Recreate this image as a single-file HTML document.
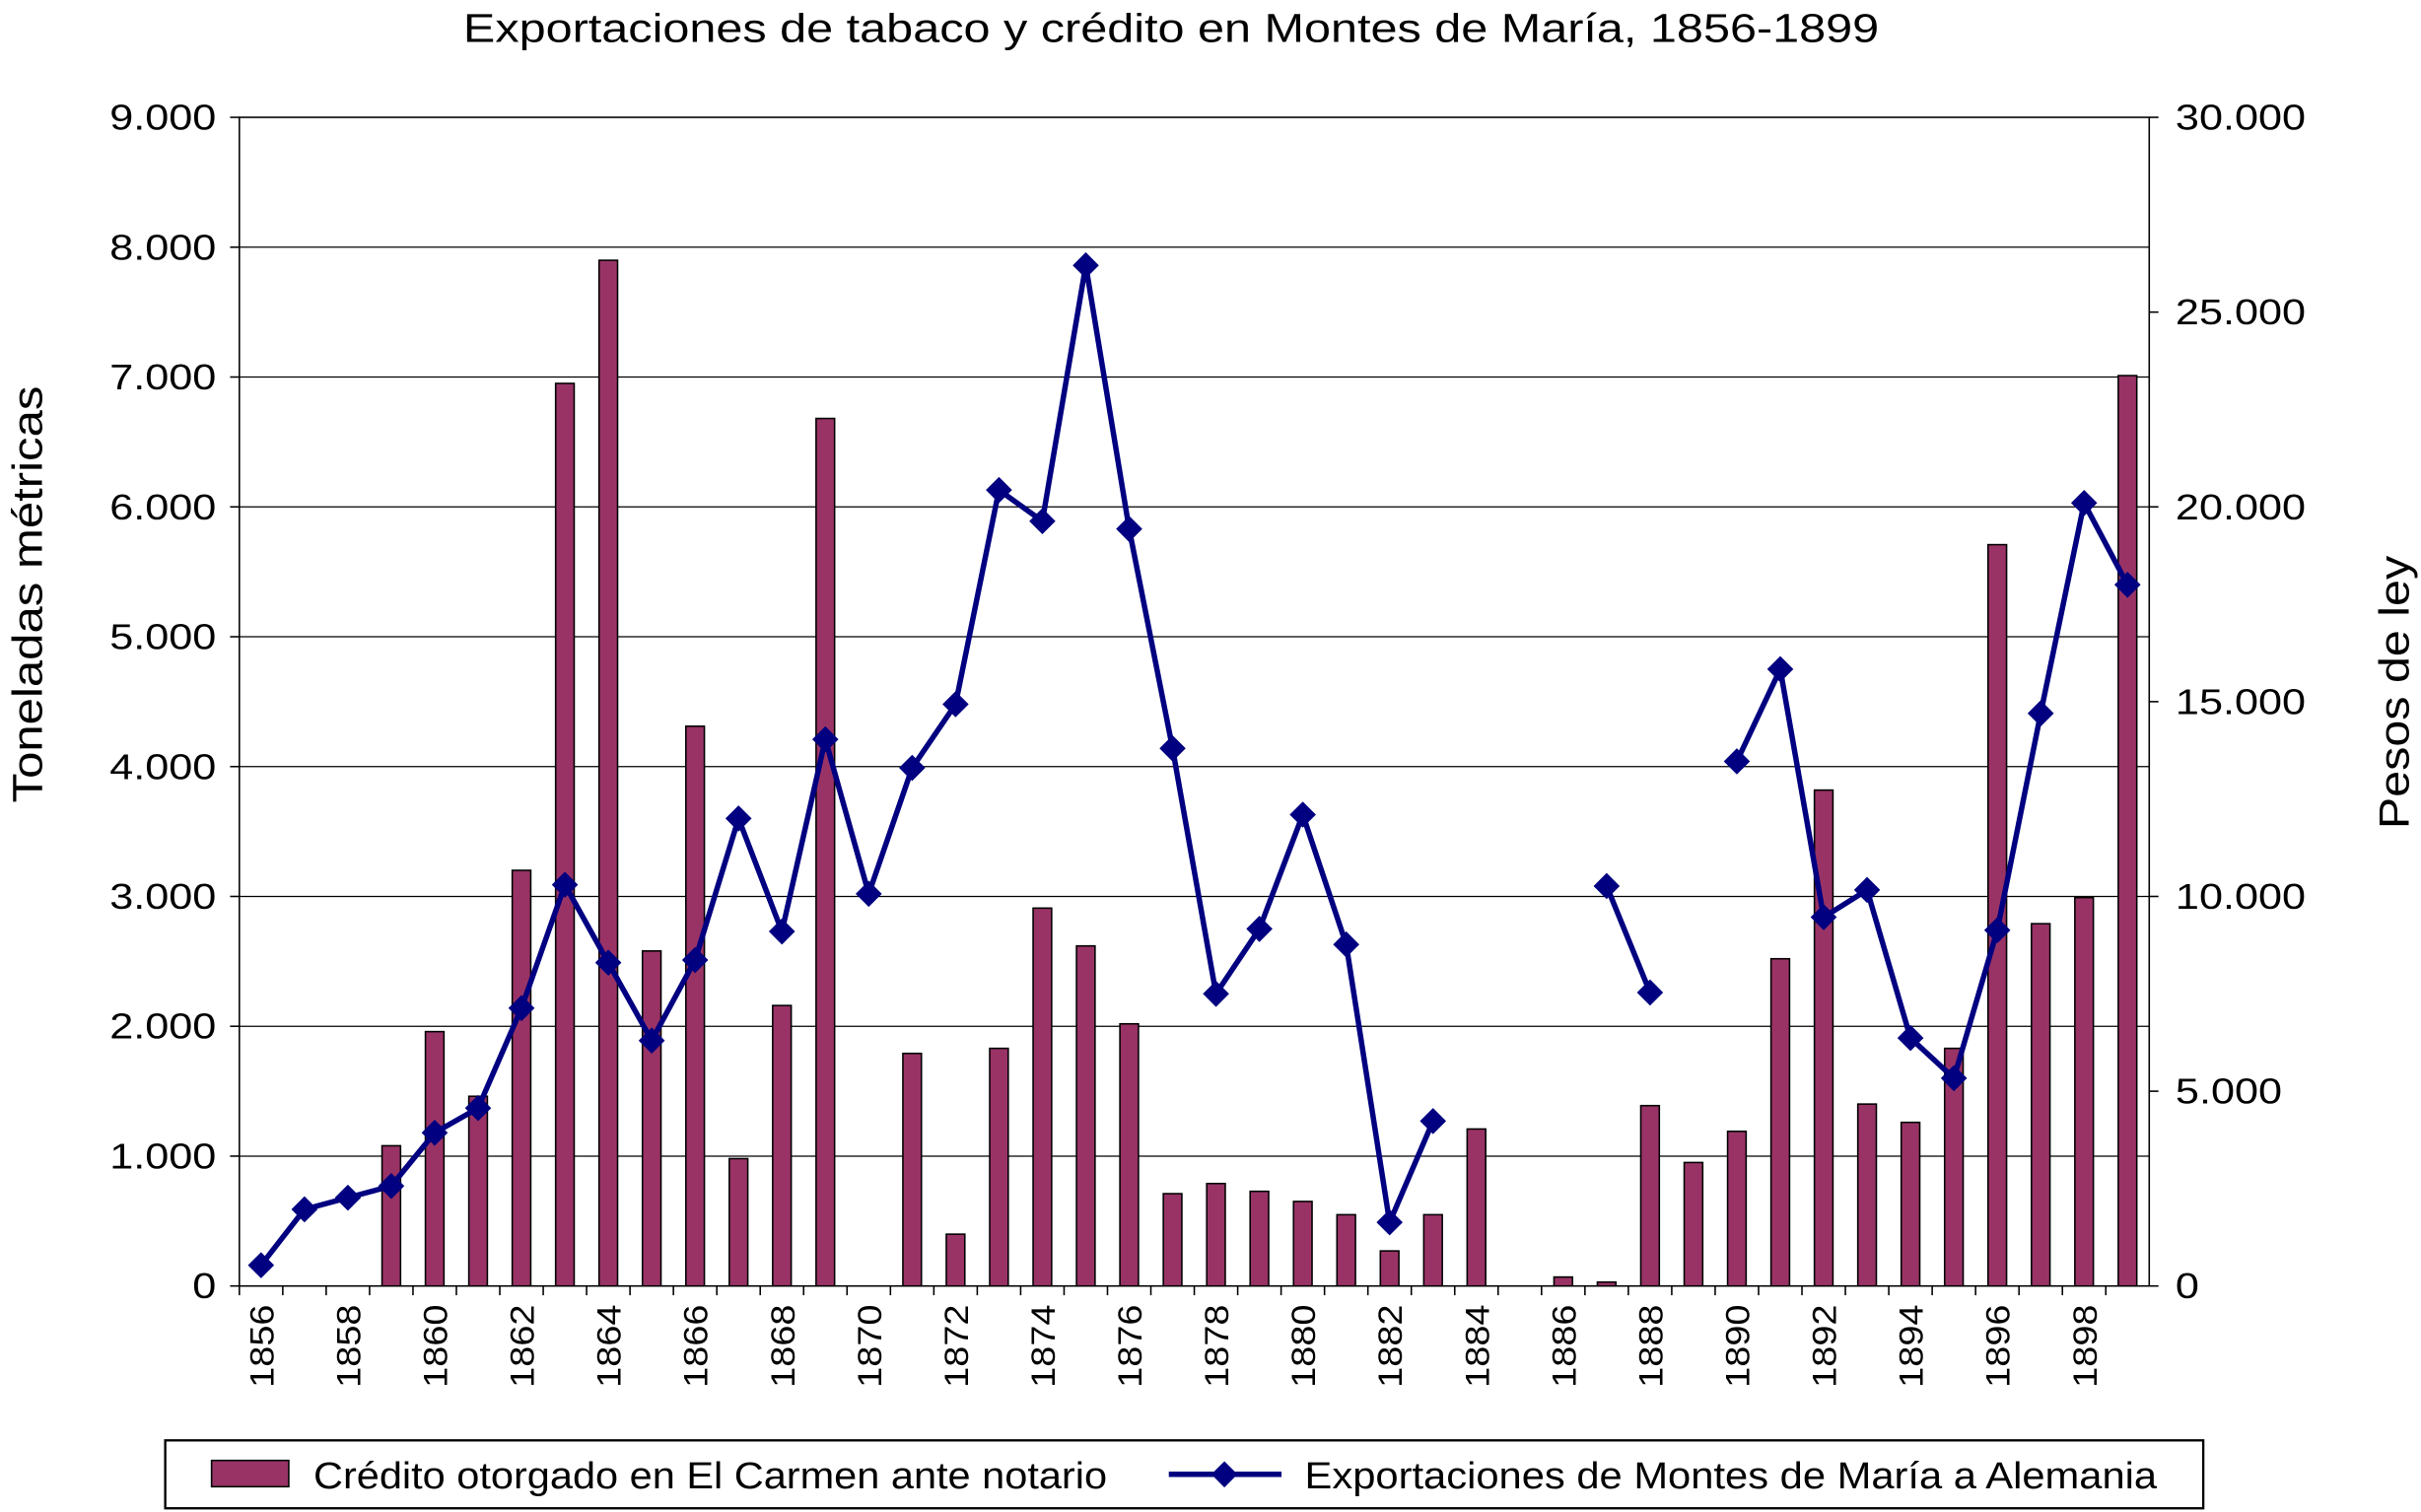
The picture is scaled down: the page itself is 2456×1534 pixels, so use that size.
<!DOCTYPE html>
<html><head><meta charset="utf-8"><style>html,body{margin:0;padding:0;background:#fff}svg{display:block}text{font-family:"Liberation Sans",Arial,sans-serif;fill:#000}</style></head>
<body>
<svg id="chart" width="2456" height="1534" viewBox="0 0 1568 979.4" xmlns="http://www.w3.org/2000/svg">
<text x="300" y="27" font-size="26" textLength="917" lengthAdjust="spacingAndGlyphs">Exportaciones de tabaco y crédito en Montes de María, 1856-1899</text>
<g id="grid"></g>
<rect x="155" y="76" width="1237" height="757" fill="none" stroke="#000" stroke-width="1"/>
<g id="bars"></g><g id="line"></g><g id="axes"></g>
<text transform="translate(27,250) rotate(-90)" font-size="27" text-anchor="end" textLength="270" lengthAdjust="spacingAndGlyphs">Toneladas métricas</text>
<text transform="translate(1560,360) rotate(-90)" font-size="27" text-anchor="end" textLength="177" lengthAdjust="spacingAndGlyphs">Pesos de ley</text>
<g>
<rect x="107" y="933" width="1320" height="44" fill="#fff" stroke="#000" stroke-width="1.5"/>
<rect x="137" y="946" width="50" height="17" fill="#993366" stroke="#000"/>
<text x="203" y="964" font-size="24" textLength="514" lengthAdjust="spacingAndGlyphs">Crédito otorgado en El Carmen ante notario</text>
<line x1="757" y1="955" x2="830" y2="955" stroke="#000080" stroke-width="3.5"/>
<rect x="787" y="949" width="12" height="12" fill="#000080" transform="rotate(45 793 955)"/>
<text x="845" y="964" font-size="24" textLength="552" lengthAdjust="spacingAndGlyphs">Exportaciones de Montes de María a Alemania</text>
</g>
</svg>
<script>
const years=[];for(let y=1856;y<=1899;y++)years.push(y);
const credito=[0,0,0,3600,6530,4870,10670,23170,26330,8600,14370,3270,7200,22270,0,5970,1330,6100,9700,8730,6730,2370,2630,2430,2170,1830,900,1830,4030,0,230,100,4630,3170,3970,8400,12730,4670,4200,6100,19030,9300,9970,23370];
const exportaciones=[160,590,680,770,1180,1370,2140,3090,2490,1890,2510,3600,2730,4210,3020,3990,4480,6130,5890,7860,5830,4140,2250,2750,3630,2630,490,1270,null,null,null,3080,2260,null,4040,4750,2840,3050,1910,1600,2740,4410,6030,5400];
const leftTicks=["0","1.000","2.000","3.000","4.000","5.000","6.000","7.000","8.000","9.000"];
const rightTicks=["0","5.000","10.000","15.000","20.000","25.000","30.000"];
const NS="http://www.w3.org/2000/svg";
const L=155,R=1392,T=76,B=833,cw=(R-L)/years.length;
const xC=i=>L+cw*(i+0.5);
const yL=v=>B-(B-T)*v/9000;
const yR=v=>B-(B-T)*v/30000;
function mk(tag,attrs,parent){const e=document.createElementNS(NS,tag);for(const k in attrs)e.setAttribute(k,attrs[k]);document.getElementById(parent).appendChild(e);return e;}
leftTicks.forEach((t,i)=>{const y=yL(i*1000);
 if(i>0&&i<9){const g=mk('line',{x1:L,x2:R,y1:y,y2:y,stroke:'#000','stroke-width':0.8},'grid');}
 mk('line',{x1:L-6,x2:L,y1:y,y2:y,stroke:'#000'},'axes');
 const tx=mk('text',{transform:`translate(${L-15},${y+8}) scale(1.2,1)`,'font-size':23,'text-anchor':'end'},'axes');tx.textContent=t;
 });
rightTicks.forEach((t,i)=>{const y=yR(i*5000);
 mk('line',{x1:R,x2:R+6,y1:y,y2:y,stroke:'#000'},'axes');
 const tx=mk('text',{transform:`translate(${R+17},${y+8}) scale(1.2,1)`,'font-size':23},'axes');tx.textContent=t;
 });
years.forEach((yr,i)=>{
 mk('line',{x1:L+cw*i,x2:L+cw*i,y1:B,y2:B+6,stroke:'#000'},'axes');
 if(i%2===0){const tx=mk('text',{transform:`translate(${xC(i)+8},${B+12}) rotate(-90) scale(1.1,1)`,'font-size':22,'text-anchor':'end'},'axes');tx.textContent=yr;
 }
 const v=credito[i];if(v>0){const y=yR(v);const b=mk('rect',{x:xC(i)-6,y:y,width:12,height:B-y,fill:'#993366',stroke:'#000','stroke-width':1},'bars');
 }
});
let seg=[];const segs=[];
exportaciones.forEach((v,i)=>{if(v===null){if(seg.length)segs.push(seg);seg=[];}else seg.push([xC(i),yL(v)]);});
if(seg.length)segs.push(seg);
segs.forEach(s=>{if(s.length>1){const p=mk('polyline',{points:s.map(p=>p.join(',')).join(' '),fill:'none',stroke:'#000080','stroke-width':3.5,'stroke-linejoin':'round'},'line');
 }
 s.forEach(([x,y])=>{const m=mk('rect',{x:x-6,y:y-6,width:12,height:12,fill:'#000080',transform:`rotate(45 ${x} ${y})`},'line');
 });});
</script>
</body></html>
